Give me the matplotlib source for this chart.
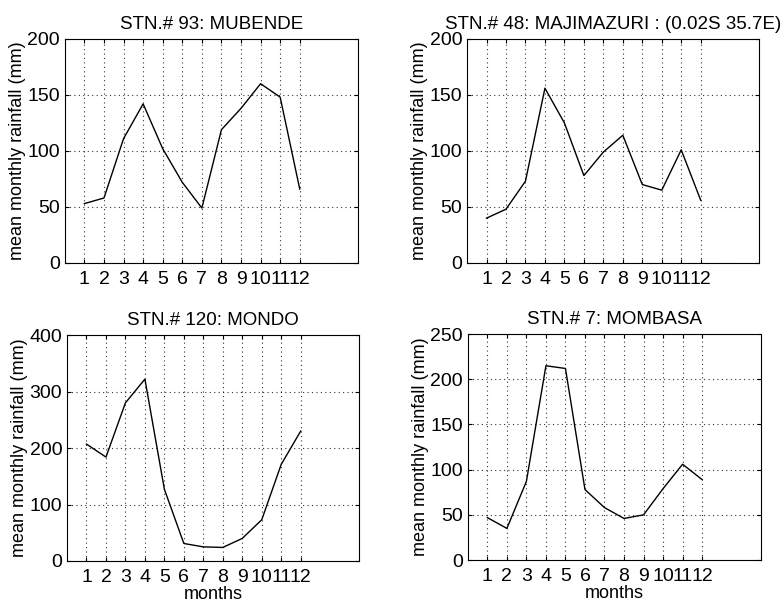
import numpy as np
import matplotlib
matplotlib.use('Agg')
import matplotlib.pyplot as plt

plt.rcParams['font.family'] = ['Liberation Sans', 'DejaVu Sans']

months = np.arange(1, 13)
mubende = [53, 58, 111, 142, 102, 72, 49, 119, 138, 160, 148, 66]
majimazuri = [40, 48, 73, 156, 125, 78, 99, 114, 70, 65, 101, 56]
mondo = [207, 184, 280, 322, 127, 31, 25, 24, 40, 73, 171, 230]
mombasa = [47, 35, 87, 215, 212, 78, 58, 46, 50, 79, 106, 89]

titles = ['STN.# 93: MUBENDE', 'STN.# 48: MAJIMAZURI : (0.02S 35.7E)',
          'STN.# 120: MONDO', 'STN.# 7: MOMBASA']
series = [mubende, majimazuri, mondo, mombasa]
ymax = [200, 200, 400, 250]
yticks = [np.arange(0, 201, 50), np.arange(0, 201, 50),
          np.arange(0, 401, 100), np.arange(0, 251, 50)]

positions = [[0.083, 0.5646, 0.376, 0.371],
             [0.598, 0.5646, 0.374, 0.371],
             [0.0858, 0.0712, 0.374, 0.374],
             [0.599, 0.0728, 0.375, 0.374]]

fig = plt.figure(figsize=(7.81, 6.04), dpi=100)

for i in range(4):
    ax = fig.add_axes(positions[i])
    ax.plot(months, series[i], color='black', linewidth=1.0)
    ax.set_xlim(0, 15)
    ax.set_ylim(0, ymax[i])
    ax.set_xticks(months)
    ax.set_xticklabels([str(m) for m in months])
    ax.set_yticks(yticks[i])
    ax.grid(True, linestyle=(0, (1, 3)), color='black', linewidth=0.8, alpha=0.8)
    ax.tick_params(direction='in', length=3, top=True, right=True, labelsize=14)
    ax.tick_params(axis='x', pad=6)
    ax.set_title(titles[i], fontsize=13.5, pad=7)
    ax.set_ylabel('mean monthly rainfall (mm)', fontsize=13, labelpad=1)
    if i >= 2:
        ax.set_xlabel('months', fontsize=13, labelpad=0)
    for s in ax.spines.values():
        s.set_linewidth(0.8)

fig.savefig('out.png', dpi=100)
